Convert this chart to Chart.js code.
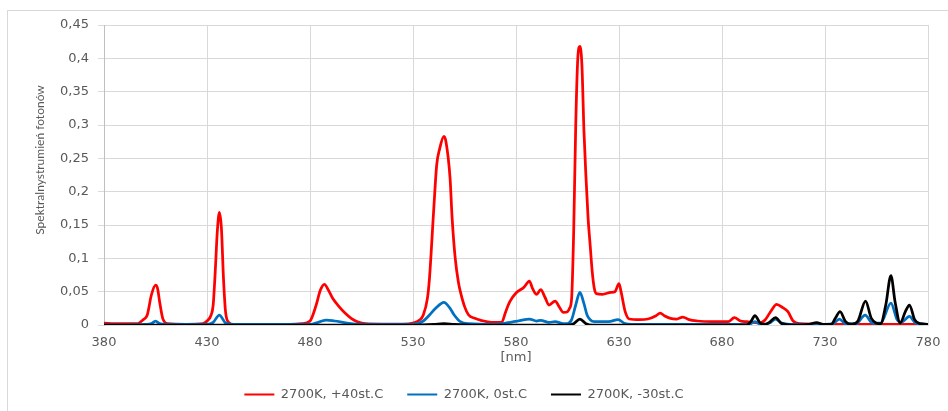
<!DOCTYPE html>
<html>
<head>
<meta charset="utf-8">
<script src="https://cdn.jsdelivr.net/npm/chart.js@4.4.1/dist/chart.umd.min.js"></script>
<style>
	body { margin:0; background:#fff; overflow:hidden; }
	.wrap { position:relative; width:948px; height:411px; }
	.ramka { position:absolute; left:7px; top:10px; width:1000px; height:500px;
		border-left:1px solid #d9d9d9; border-top:1px solid #d9d9d9; }
	#myChart { position:absolute; left:0; top:0; }
</style>
</head>
<body>
<div class="wrap">
	<div class="ramka"></div>
	<canvas id="myChart" width="948" height="411"></canvas>
</div>
<script>
// ---------------- dane ----------------
const seriesNames = ['2700K, +40st.C', '2700K, 0st.C', '2700K, -30st.C']

// 2700K +40st.C
const redX = [380,385,390,396,399,401,403,405,406,407,408.5,411,420,428,430,432,433,434,435,436,437,438,439,440.5,443,460,470,476,480,483,485,487,489,491,494,497,500,503,507,515,525,530,533,535,537,538,540,541.5,543,545,546,548,549,550.5,552,553,555,557,560,563,568,573,575,577,580,584,586.5,588,590,592,594,596,599,601,603,605,606,607,608,609,610,611,612,613,614,615,616,617,618,619,622,626,628,630,631,633,635,640,644,648,650,652,655,658,661,664,668,675,683,686,689,692,698,701,704,706.5,709.5,712,714.5,718,730,780]
const redY = [0.003,0.002,0.002,0.002,0.008,0.015,0.045,0.06,0.055,0.035,0.01,0.002,0.001,0.002,0.006,0.015,0.03,0.08,0.14,0.169,0.145,0.07,0.02,0.004,0.001,0.001,0.001,0.002,0.006,0.03,0.052,0.061,0.052,0.04,0.028,0.018,0.01,0.005,0.002,0.0015,0.0015,0.003,0.007,0.015,0.04,0.07,0.17,0.24,0.265,0.283,0.275,0.22,0.16,0.1,0.065,0.05,0.028,0.015,0.01,0.007,0.004,0.004,0.02,0.035,0.048,0.057,0.066,0.055,0.046,0.053,0.042,0.03,0.036,0.027,0.019,0.02,0.025,0.04,0.14,0.3,0.4,0.418,0.39,0.29,0.22,0.16,0.12,0.08,0.055,0.047,0.046,0.049,0.05,0.062,0.05,0.02,0.009,0.008,0.009,0.014,0.018,0.014,0.01,0.009,0.012,0.008,0.006,0.005,0.005,0.011,0.006,0.005,0.003,0.008,0.022,0.031,0.026,0.02,0.006,0.002,0.001,0.001]

// 2700K 0st.C
const blueX = [380,400,403,405,407,410,430,433,436,439,442,480,484,488,492,498,505,530,535,538,541,545,548,550,553,557,570,575,581,586.5,590,592,596,599,603,605,607,609,611,613,614.5,616,618,625,629.5,633,636,690,693,696,699,703,706,709,715,723,726,730,734,737,740,745,749.5,753,757,762,765,767,771,774,780]
const blueY = [0,0.001,0.002,0.006,0.002,0.001,0.001,0.004,0.015,0.003,0.001,0.001,0.004,0.0075,0.006,0.003,0.001,0.001,0.006,0.015,0.025,0.034,0.025,0.015,0.005,0.002,0.001,0.003,0.006,0.009,0.006,0.007,0.004,0.005,0.002,0.002,0.008,0.03,0.049,0.032,0.015,0.008,0.005,0.005,0.008,0.002,0.001,0.001,0.001,0.005,0.001,0.003,0.009,0.003,0.001,0.001,0.002,0.001,0.002,0.009,0.002,0.002,0.015,0.003,0.003,0.033,0.008,0.004,0.013,0.003,0.001]

// 2700K -30st.C
const blackX = [380,530,540,545,550,560,605,608,611,614,617,692,694,696,698.5,701,703,706,709,715,722,726,729,733,735,737.3,740,743,746,749.7,752.5,757,759.5,762,764,766.5,769,771,773.5,776,780]
const blackY = [0,0,0.001,0.002,0.001,0,0,0.002,0.009,0.002,0,0,0.005,0.014,0.003,0.001,0.004,0.011,0.002,0,0.001,0.0035,0.001,0.001,0.01,0.02,0.005,0.001,0.006,0.036,0.01,0.002,0.03,0.074,0.035,0.003,0.02,0.03,0.008,0.002,0.001]

// osie
const xTicks = [380,430,480,530,580,630,680,730,780]
const yTicks = [0,0.05,0.1,0.15,0.2,0.25,0.3,0.35,0.4,0.45]
const yTickLabels = ['0','0,05','0,1','0,15','0,2','0,25','0,3','0,35','0,4','0,45']

const toPoints = (xs, ys) => xs.map((x,i) => ({ x : x , y : ys[i] }))

// tytul osi Y rysowany recznie (lekko ponad srodkiem jak w oryginale)
const yTitle = {
	id : 'yTitle',
	afterDraw(chart){
		const c = chart.ctx
		c.save()
		c.translate(40, 160)
		c.rotate(-Math.PI/2)
		c.font = '12px Lato'
		c.fillStyle = '#595959'
		c.textAlign = 'center'
		c.textBaseline = 'middle'
		c.fillText('Spektralnystrumień fotonów', 0, 0)
		c.restore()
	}
}

const ctx = document.getElementById('myChart');

new Chart(ctx, {
	type : 'line',
	data : {
		datasets : [
			{ label : seriesNames[0], data : toPoints(redX, redY), borderColor : '#ff0000', backgroundColor : '#ff0000', order : 3 },
			{ label : seriesNames[1], data : toPoints(blueX, blueY), borderColor : '#0070c0', backgroundColor : '#0070c0', order : 2 },
			{ label : seriesNames[2], data : toPoints(blackX, blackY), borderColor : '#000000', backgroundColor : '#000000', order : 1 }
		]
	},
	options : {
		responsive : false,
		animation : false,
		devicePixelRatio : 1,
		layout : { padding : { top : 25, right : 20, left : 0, bottom : 0 } },
		elements : {
			line : { borderWidth : 2.75, cubicInterpolationMode : 'monotone' },
			point : { radius : 0 }
		},
		scales : {
			x : {
				type : 'linear',
				min : 380, max : 780,
				afterBuildTicks : (s) => { s.ticks = xTicks.map(v => ({ value : v })) },
				afterFit : (s) => { s.height = 39; s.paddingLeft = 0; s.paddingRight = 0 },
				grid : { color : '#d9d9d9', drawTicks : false },
				border : { color : '#d9d9d9' },
				ticks : { padding : 10, color : '#595959', font : { family : 'DejaVu Sans', size : 13 } },
				title : { display : true, text : '[nm]', color : '#595959', padding : { top : 0, bottom : -1 },
					font : { family : 'DejaVu Sans', size : 13 } }
			},
			y : {
				min : 0, max : 0.45,
				afterBuildTicks : (s) => { s.ticks = yTicks.map(v => ({ value : v })) },
				afterFit : (s) => { s.width = 104 },
				grid : { color : '#d9d9d9', tickLength : 6 },
				border : { color : '#bfbfbf' },
				ticks : { padding : 9, color : '#595959', font : { family : 'DejaVu Sans', size : 13 },
					callback : (v, i) => yTickLabels[i] }
			}
		},
		plugins : {
			tooltip : { enabled : false },
			legend : {
				position : 'bottom',
				maxHeight : 52,
				labels : {
					boxWidth : 30, boxHeight : 2, padding : 24, color : '#595959',
					font : { family : 'DejaVu Sans', size : 13 },
					sort : (a, b) => a.datasetIndex - b.datasetIndex,
					generateLabels : (chart) => {
						const items = Chart.defaults.plugins.legend.labels.generateLabels(chart)
						items.forEach(it => { it.lineWidth = 0; it.fillStyle = it.strokeStyle })
						return items
					}
				}
			}
		}
	},
	plugins : [ yTitle ]
});
</script>
</body>
</html>
